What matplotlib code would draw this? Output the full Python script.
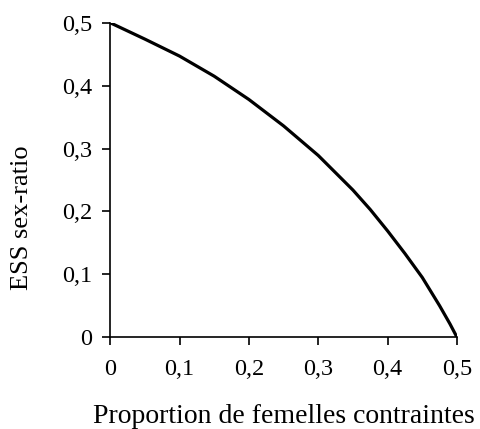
import matplotlib
matplotlib.use("Agg")
import matplotlib.pyplot as plt
from matplotlib.ticker import FuncFormatter

# Data
proportion = [0.0, 0.05, 0.10, 0.15, 0.20, 0.25, 0.30, 0.35, 0.375, 0.40, 0.425, 0.45, 0.475, 0.49, 0.50]
ess_ratio = [0.500, 0.474, 0.447, 0.415, 0.378, 0.336, 0.289, 0.234, 0.203, 0.169, 0.133, 0.095, 0.050, 0.021, 0.0]

x_ticks = [0, 0.1, 0.2, 0.3, 0.4, 0.5]
y_ticks = [0, 0.1, 0.2, 0.3, 0.4, 0.5]

plt.rcParams['font.family'] = ['Liberation Serif', 'DejaVu Serif']

fig = plt.figure(figsize=(4.81, 4.29), dpi=100)
ax = fig.add_axes([0.229, 0.214, 0.721, 0.733])
ax.plot(proportion, ess_ratio, color='black', linewidth=2.3, solid_joinstyle='round')

ax.set_xlim(0, 0.5)
ax.set_ylim(0, 0.5)
ax.set_xticks(x_ticks)
ax.set_yticks(y_ticks)

def fmt(v, pos):
    if abs(v) < 1e-9:
        return '0'
    return ('%.1f' % v).replace('.', ',')

ax.xaxis.set_major_formatter(FuncFormatter(fmt))
ax.yaxis.set_major_formatter(FuncFormatter(fmt))

for s in ['top', 'right']:
    ax.spines[s].set_visible(False)
for s in ['left', 'bottom']:
    ax.spines[s].set_linewidth(1.2)
ax.tick_params(direction='out', length=6, width=1.2, labelsize=17.5)
ax.tick_params(axis='x', pad=10)
ax.tick_params(axis='y', pad=7)

ax.set_xlabel('Proportion de femelles contraintes', fontsize=20, va='center')
ax.xaxis.set_label_coords(0.5014, -0.2536)
ax.set_ylabel('ESS sex-ratio', fontsize=19, va='center', ha='center')
ax.yaxis.set_label_coords(-0.2545, 0.380)

fig.savefig('out.png', dpi=100)
